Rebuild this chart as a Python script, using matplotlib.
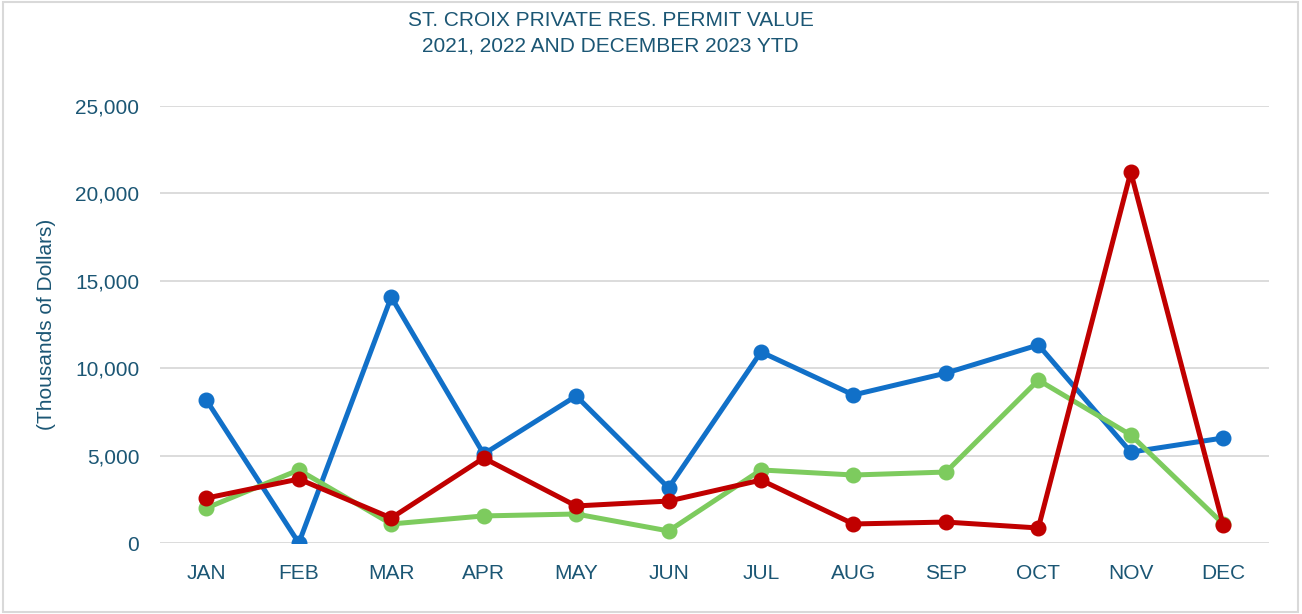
import matplotlib.pyplot as plt
from matplotlib.patches import Rectangle
from matplotlib.ticker import FuncFormatter

plt.rcParams['font.family'] = ['Liberation Sans', 'DejaVu Sans']

# valeurs (milliers de dollars)
months = ["JAN", "FEB", "MAR", "APR", "MAY", "JUN", "JUL", "AUG", "SEP", "OCT", "NOV", "DEC"]
val_2021 = [8180, 0, 14070, 5090, 8410, 3150, 10930, 8470, 9720, 11330, 5200, 6010]
val_2022 = [2000, 4180, 1090, 1550, 1660, 690, 4180, 3890, 4060, 9320, 6180, 1090]
val_2023 = [2570, 3660, 1430, 4860, 2120, 2400, 3600, 1090, 1200, 860, 21220, 1030]

TEXT = "#1B5674"
GRID = "#D9D9D9"

fig = plt.figure(figsize=(13.02, 6.14), dpi=100)
fig.patches.append(Rectangle((0.002, 0.003), 0.995, 0.994, transform=fig.transFigure,
                             fill=False, edgecolor="#D9D9D9", linewidth=1.5))
ax = fig.add_axes([0.123, 0.1156, 0.852, 0.7118])

x = range(len(months))
ax.plot(x, val_2021, color="#1170C8", linewidth=3.6, marker="o", markersize=10.5, zorder=3)
ax.plot(x, val_2022, color="#7DCB5E", linewidth=3.6, marker="o", markersize=10.5, zorder=4)
ax.plot(x, val_2023, color="#C00000", linewidth=3.6, marker="o", markersize=10.5, zorder=5)

ax.set_xlim(-0.5, 11.5)
ax.set_ylim(0, 25000)
ax.set_yticks(range(0, 25001, 5000))
ax.yaxis.set_major_formatter(FuncFormatter(lambda v, p: f"{int(v):,}"))
ax.set_xticks(list(x))
ax.set_xticklabels(months)
ax.grid(axis="y", color=GRID, linewidth=1.3)
ax.set_axisbelow(True)
for s in ax.spines.values():
    s.set_visible(False)
ax.tick_params(axis="both", length=0, colors=TEXT, labelsize=15)
ax.tick_params(axis="x", pad=15)
ax.tick_params(axis="y", pad=15)
ax.set_ylabel("(Thousands of Dollars)", color=TEXT, fontsize=15, labelpad=14)

fig.text(0.469, 0.966, "ST. CROIX PRIVATE RES. PERMIT VALUE", ha="center", va="center",
         color=TEXT, fontsize=15)
fig.text(0.469, 0.925, "2021, 2022 AND DECEMBER 2023 YTD", ha="center", va="center",
         color=TEXT, fontsize=15)

fig.savefig("out.png", dpi=100)
